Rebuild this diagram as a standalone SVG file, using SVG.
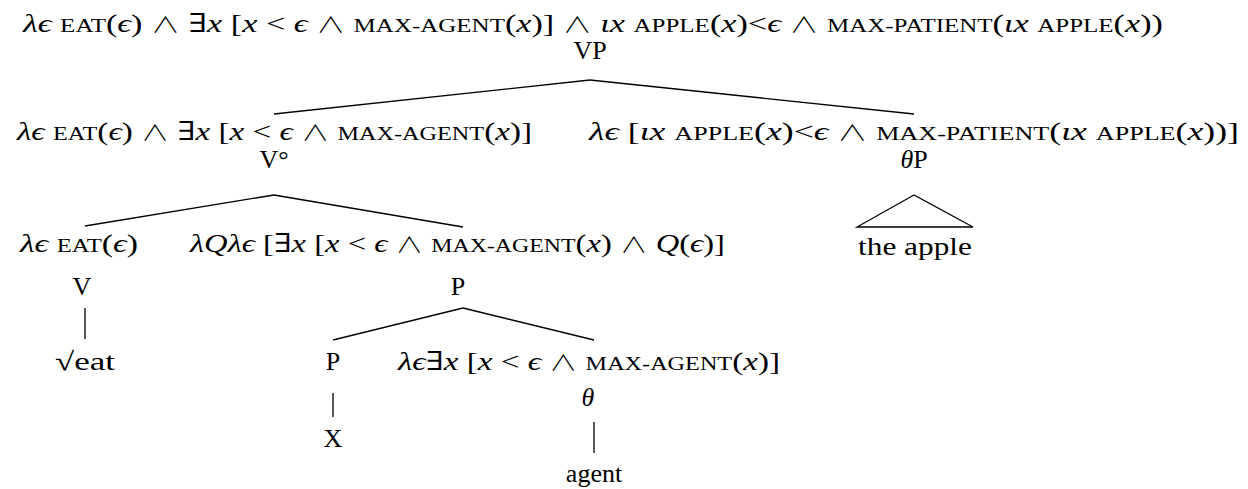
<svg xmlns="http://www.w3.org/2000/svg" width="1248" height="489" viewBox="0 0 1248 489">
<style>
text{font-family:"Liberation Serif","DejaVu Serif",serif;font-size:26px;fill:#000}
.i{font-style:italic}
.sc{font-size:19px}
.w{font-family:"Noto Sans CJK SC","DejaVu Serif",serif;font-weight:300;font-size:22px}
.m{text-anchor:middle}
.c line,.c polygon{stroke:#000;stroke-width:1.3;fill:none}
</style>
<rect width="1248" height="489" fill="#fff"/>
<g class="c" id="connectors">
<line x1="590" y1="80" x2="274" y2="114"/>
<line x1="590" y1="80" x2="914" y2="114"/>
<line x1="274" y1="195" x2="85" y2="226"/>
<line x1="274" y1="195" x2="463" y2="227"/>
<polygon points="914,195 857,227 973,227"/>
<line x1="85" y1="308" x2="85" y2="339"/>
<line x1="463" y1="308" x2="333" y2="340"/>
<line x1="463" y1="308" x2="594" y2="340"/>
<line x1="333" y1="393" x2="333" y2="417"/>
<line x1="594" y1="422" x2="594" y2="453"/>
</g>
<g id="n-vp">
<text x="23" y="32" textLength="1140" lengthAdjust="spacingAndGlyphs"><tspan class="i">λϵ</tspan> <tspan class="sc">EAT</tspan>(<tspan class="i">ϵ</tspan>) <tspan class="w">∧</tspan> ∃<tspan class="i">x</tspan> [<tspan class="i">x</tspan> &lt; <tspan class="i">ϵ</tspan> <tspan class="w">∧</tspan> <tspan class="sc">MAX-AGENT</tspan>(<tspan class="i">x</tspan>)] <tspan class="w">∧</tspan> <tspan class="i">ιx</tspan> <tspan class="sc">APPLE</tspan>(<tspan class="i">x</tspan>)&lt;<tspan class="i">ϵ</tspan> <tspan class="w">∧</tspan> <tspan class="sc">MAX-PATIENT</tspan>(<tspan class="i">ιx</tspan> <tspan class="sc">APPLE</tspan>(<tspan class="i">x</tspan>))</text>
<text class="m" x="590" y="59">VP</text>
</g>
<g id="n-vcirc">
<text x="17" y="140" textLength="515" lengthAdjust="spacingAndGlyphs"><tspan class="i">λϵ</tspan> <tspan class="sc">EAT</tspan>(<tspan class="i">ϵ</tspan>) <tspan class="w">∧</tspan> ∃<tspan class="i">x</tspan> [<tspan class="i">x</tspan> &lt; <tspan class="i">ϵ</tspan> <tspan class="w">∧</tspan> <tspan class="sc">MAX-AGENT</tspan>(<tspan class="i">x</tspan>)]</text>
<text class="m" x="274" y="168">V°</text>
</g>
<g id="n-thetap">
<text x="589" y="140" textLength="650" lengthAdjust="spacingAndGlyphs"><tspan class="i">λϵ</tspan> [<tspan class="i">ιx</tspan> <tspan class="sc">APPLE</tspan>(<tspan class="i">x</tspan>)&lt;<tspan class="i">ϵ</tspan> <tspan class="w">∧</tspan> <tspan class="sc">MAX-PATIENT</tspan>(<tspan class="i">ιx</tspan> <tspan class="sc">APPLE</tspan>(<tspan class="i">x</tspan>))]</text>
<text class="m" x="914" y="168"><tspan class="i">θ</tspan>P</text>
</g>
<g id="n-apple">
<text x="858" y="255" textLength="114" lengthAdjust="spacingAndGlyphs">the apple</text>
</g>
<g id="n-v">
<text x="20" y="252" textLength="118" lengthAdjust="spacingAndGlyphs"><tspan class="i">λϵ</tspan> <tspan class="sc">EAT</tspan>(<tspan class="i">ϵ</tspan>)</text>
<text class="m" x="82" y="295">V</text>
</g>
<g id="n-eat">
<text x="55" y="370" textLength="60" lengthAdjust="spacingAndGlyphs">√eat</text>
</g>
<g id="n-p">
<text x="190" y="252" textLength="535" lengthAdjust="spacingAndGlyphs"><tspan class="i">λQλϵ</tspan> [∃<tspan class="i">x</tspan> [<tspan class="i">x</tspan> &lt; <tspan class="i">ϵ</tspan> <tspan class="w">∧</tspan> <tspan class="sc">MAX-AGENT</tspan>(<tspan class="i">x</tspan>) <tspan class="w">∧</tspan> <tspan class="i">Q</tspan>(<tspan class="i">ϵ</tspan>)]</text>
<text class="m" x="458" y="295">P</text>
</g>
<g id="n-p2">
<text class="m" x="333" y="370">P</text>
</g>
<g id="n-x">
<text class="m" x="333" y="447">X</text>
</g>
<g id="n-theta">
<text x="398" y="370" textLength="382" lengthAdjust="spacingAndGlyphs"><tspan class="i">λϵ</tspan>∃<tspan class="i">x</tspan> [<tspan class="i">x</tspan> &lt; <tspan class="i">ϵ</tspan> <tspan class="w">∧</tspan> <tspan class="sc">MAX-AGENT</tspan>(<tspan class="i">x</tspan>)]</text>
<text class="m i" x="588" y="406">θ</text>
</g>
<g id="n-agent">
<text class="m" x="594" y="482">agent</text>
</g>
</svg>
